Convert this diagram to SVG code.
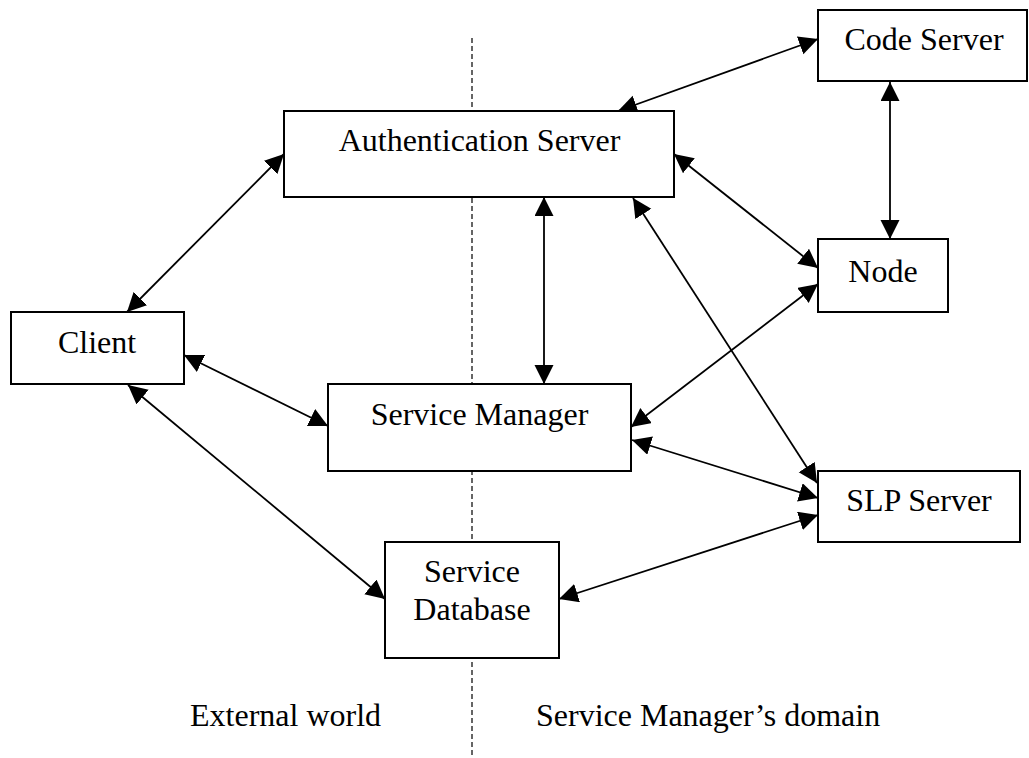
<svg xmlns="http://www.w3.org/2000/svg" width="1029" height="758" viewBox="0 0 1029 758">
  <style>
    .box { fill: #ffffff; stroke: #000000; stroke-width: 2; }
    .lbl { font-family: "Liberation Serif", "Times New Roman", serif; font-size: 32px; fill: #000000; }
    .mid { text-anchor: middle; }
    .link { fill: none; stroke: #000000; stroke-width: 1.8; marker-start: url(#head); marker-end: url(#head); }
    .divider { stroke: #555555; stroke-width: 1.8; stroke-dasharray: 5 3; fill: none; }
  </style>
  <defs>
    <marker id="head" markerUnits="userSpaceOnUse" markerWidth="20" markerHeight="20" refX="19" refY="9.5" orient="auto-start-reverse">
      <path d="M0,0 L19,9.5 L0,19 Z" fill="#000000"/>
    </marker>
  </defs>

  <rect width="1029" height="758" fill="#ffffff"/>

  <!-- domain boundary -->
  <line class="divider" x1="472" y1="38" x2="472" y2="756"/>

  <!-- connectors -->
  <g id="connectors">
    <line class="link" x1="618" y1="111" x2="818" y2="39"/>
    <line class="link" x1="890" y1="82" x2="890" y2="239"/>
    <line class="link" x1="674" y1="154" x2="818" y2="268"/>
    <line class="link" x1="633" y1="198" x2="817" y2="483"/>
    <line class="link" x1="818" y1="284" x2="631" y2="427"/>
    <line class="link" x1="632" y1="440" x2="818" y2="498"/>
    <line class="link" x1="818" y1="515" x2="559" y2="599"/>
    <line class="link" x1="544" y1="197" x2="544" y2="384"/>
    <line class="link" x1="284" y1="154" x2="127" y2="312"/>
    <line class="link" x1="184" y1="355" x2="328" y2="426"/>
    <line class="link" x1="128" y1="385" x2="385" y2="599"/>
  </g>

  <!-- nodes -->
  <g id="code-server">
    <rect class="box" x="818" y="10" width="209" height="71"/>
    <text class="lbl mid" x="924" y="50">Code Server</text>
  </g>
  <g id="authentication-server">
    <rect class="box" x="284" y="111" width="390" height="86"/>
    <text class="lbl mid" x="479.5" y="151">Authentication Server</text>
  </g>
  <g id="node">
    <rect class="box" x="818" y="239" width="130" height="73"/>
    <text class="lbl mid" x="883" y="282">Node</text>
  </g>
  <g id="client">
    <rect class="box" x="11" y="312" width="173" height="72"/>
    <text class="lbl mid" x="97" y="353">Client</text>
  </g>
  <g id="service-manager">
    <rect class="box" x="328" y="384" width="303" height="87"/>
    <text class="lbl mid" x="479.5" y="425">Service Manager</text>
  </g>
  <g id="slp-server">
    <rect class="box" x="818" y="471" width="202" height="71"/>
    <text class="lbl mid" x="919" y="511">SLP Server</text>
  </g>
  <g id="service-database">
    <rect class="box" x="385" y="542" width="174" height="116"/>
    <text class="lbl mid" x="472" y="582">Service</text>
    <text class="lbl mid" x="472" y="620">Database</text>
  </g>

  <!-- region captions -->
  <g id="captions">
    <text class="lbl" x="190" y="726">External world</text>
    <text class="lbl" x="536" y="726">Service Manager’s domain</text>
  </g>
</svg>
